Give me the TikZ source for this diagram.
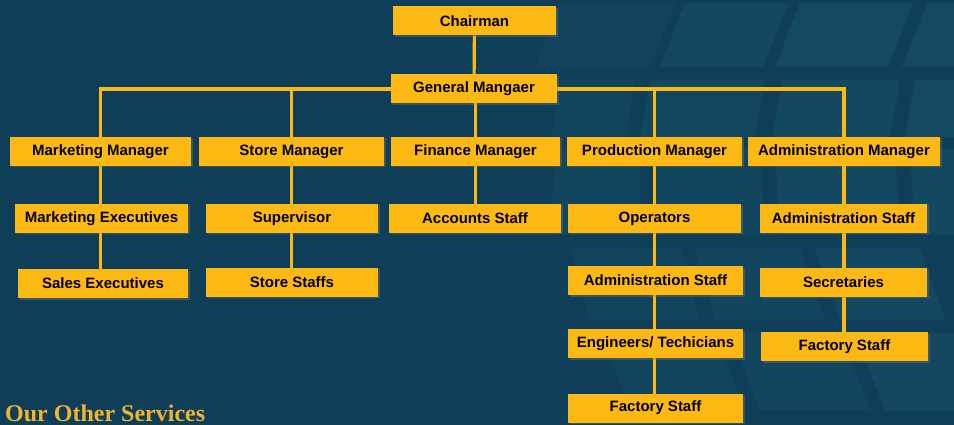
\documentclass[tikz,border=0pt]{standalone}
\usepackage{fontspec}
\setmainfont{Liberation Sans}
\newfontfamily\headfont{Liberation Serif}
\usetikzlibrary{backgrounds,shadows}
\definecolor{bgblue}{HTML}{0F3F58}
\definecolor{tileblue}{HTML}{185169}
\definecolor{boxgold}{HTML}{FDB913}
\definecolor{headgold}{HTML}{F0B42E}
\tikzset{
  post/.style={fill=boxgold, minimum height=29pt, inner sep=0pt, text=black,
    font=\bfseries\fontsize{15}{18}\selectfont,
    drop shadow={shadow xshift=1.5pt, shadow yshift=-1.5pt, opacity=0.35}},
  link/.style={draw=boxgold, line width=3.2pt},
  tile/.style={fill=tileblue}
}
\begin{document}
\begin{tikzpicture}[x=1pt,y=-1pt]
\useasboundingbox (0,0) rectangle (954,425);

\node[post, minimum width=163pt] (ch) at (474.5,21) {Chairman};
\node[post, minimum width=166pt] (gm) at (474,89) {General Mangaer};

\node[post, minimum width=181pt] (mm) at (100.5,151.5) {Marketing Manager};
\node[post, minimum width=185pt] (sm) at (291.5,151.5) {Store Manager};
\node[post, minimum width=169pt] (fm) at (475.5,151.5) {Finance Manager};
\node[post, minimum width=175pt] (pm) at (654.5,151.5) {Production Manager};
\node[post, minimum width=192pt] (am) at (844,151.5) {Administration Manager};

\node[post, minimum width=173pt] (me) at (101.5,218.5) {Marketing Executives};
\node[post, minimum width=172pt] (sup) at (292,218.5) {Supervisor};
\node[post, minimum width=172pt] (acc) at (475,218.5) {Accounts Staff};
\node[post, minimum width=173pt] (op) at (654.5,218.5) {Operators};
\node[post, minimum width=167pt] (as1) at (843.5,218.5) {Administration Staff};

\node[post, minimum width=170pt] (se) at (103,283.5) {Sales Executives};
\node[post, minimum width=172pt] (ss) at (292,282) {Store Staffs};
\node[post, minimum width=175pt] (as2) at (655.5,280.5) {Administration Staff};
\node[post, minimum width=167pt] (sec) at (843.5,282) {Secretaries};

\node[post, minimum width=175pt] (eng) at (655.5,343.5) {Engineers/ Techicians};
\node[post, minimum width=167pt] (fs1) at (844.5,346.5) {Factory Staff};
\node[post, minimum width=175pt] (fs2) at (655.5,408) {Factory Staff};

\node[anchor=base west, inner sep=0pt, text=headgold,
  font=\headfont\bfseries\fontsize{24}{28}\selectfont] (oth) at (5,421) {Our Other Services};

\begin{scope}[on background layer]
\fill[bgblue] (0,0) rectangle (954,425);
% globe grid
\foreach \a/\b/\c/\d/\t/\u/\o in {
  560/675/535/650/3/67/0.35, 685/788/660/763/3/67/0.5, 800/913/775/888/3/67/0.6, 927/960/902/960/3/67/0.6,
  560/635/552/627/80/137/0.3, 650/765/640/755/80/137/0.45, 782/900/772/890/80/137/0.55, 915/960/905/960/80/137/0.6,
  555/640/550/640/150/235/0.3, 655/760/655/765/150/235/0.4, 775/895/780/900/150/235/0.5, 910/960/915/960/150/235/0.55,
  570/680/590/700/248/320/0.3, 695/800/715/825/248/320/0.4, 815/920/840/945/248/320/0.5,
  600/715/630/745/333/410/0.3, 730/840/760/870/333/410/0.4, 855/960/885/960/333/410/0.5}
  \fill[tile, fill opacity=\o] (\a,\t) -- (\b,\t) -- (\d,\u) -- (\c,\u) -- cycle;

\draw[link] (ch) -- (gm);
\draw[link] (gm) -| (mm);
\draw[link] (gm) -| (sm);
\draw[link] (fm |- gm) -- (fm);
\draw[link] (gm) -| (pm);
\draw[link] (gm) -| (am);

\draw[link] (mm) -- (mm |- me) -- (mm |- se);
\draw[link] (sm) -- (sm |- sup) -- (sm |- ss);
\draw[link] (fm) -- (fm |- acc);
\draw[link] (pm) -- (pm |- op) -- (pm |- as2) -- (pm |- eng) -- (pm |- fs2);
\draw[link] (am) -- (am |- as1) -- (am |- sec) -- (am |- fs1);
\end{scope}
\end{tikzpicture}
\end{document}
